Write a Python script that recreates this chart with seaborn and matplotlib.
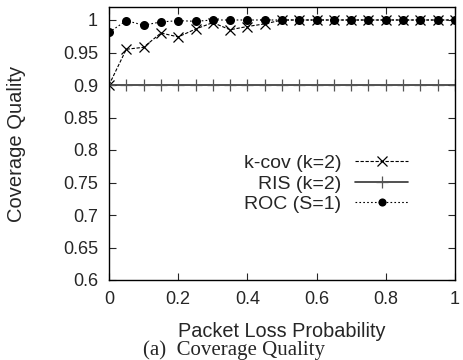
import matplotlib
matplotlib.use("Agg")
import matplotlib.pyplot as plt
import seaborn as sns
import pandas as pd

# Packet loss probability steps
loss = [0.0, 0.05, 0.1, 0.15, 0.2, 0.25, 0.3, 0.35, 0.4, 0.45, 0.5,
        0.55, 0.6, 0.65, 0.7, 0.75, 0.8, 0.85, 0.9, 0.95, 1.0]

kcov = [0.900, 0.955, 0.958, 0.980, 0.974, 0.986, 0.996, 0.985, 0.990, 0.994, 1.0,
        1.0, 1.0, 1.0, 1.0, 1.0, 1.0, 1.0, 1.0, 1.0, 1.0]
ris = [0.9] * 21
roc = [0.981, 0.999, 0.992, 0.997, 0.999, 0.998, 1.0, 1.0, 1.0, 1.0, 1.0,
       1.0, 1.0, 1.0, 1.0, 1.0, 1.0, 1.0, 1.0, 1.0, 1.0]

x_ticks = [0, 0.2, 0.4, 0.6, 0.8, 1]
x_labels = ["0", "0.2", "0.4", "0.6", "0.8", "1"]
y_ticks = [0.6, 0.65, 0.7, 0.75, 0.8, 0.85, 0.9, 0.95, 1]
y_labels = ["0.6", "0.65", "0.7", "0.75", "0.8", "0.85", "0.9", "0.95", "1"]

sns.set_style("ticks")
plt.rcParams["font.family"] = ["Liberation Sans", "DejaVu Sans"]

fig = plt.figure(figsize=(4.63, 3.6), dpi=100)
ax = fig.add_axes([109 / 463, 80 / 360, 346 / 463, 273 / 360])

df_k = pd.DataFrame({"x": loss, "y": kcov})
df_r = pd.DataFrame({"x": loss, "y": ris})
df_o = pd.DataFrame({"x": loss, "y": roc})

sns.lineplot(data=df_k, x="x", y="y", ax=ax, color="black", lw=0.8,
             linestyle=(0, (3, 1.5)), marker="x", markersize=7.5,
             markeredgewidth=0.9, markeredgecolor="black",
             label="k-cov (k=2)")
sns.lineplot(data=df_r, x="x", y="y", ax=ax, color="#333333", lw=1.2,
             linestyle="-", marker="+", markersize=9, markeredgewidth=0.9,
             markeredgecolor="#555555", label="RIS (k=2)")
sns.lineplot(data=df_o, x="x", y="y", ax=ax, color="black", lw=0.8,
             linestyle=(0, (1.5, 2)), marker="o", markersize=6.5,
             markeredgewidth=0, markerfacecolor="black", label="ROC (S=1)")

ax.set_xlim(0, 1)
ax.set_ylim(0.6, 1.02)
ax.set_xticks(x_ticks)
ax.set_xticklabels(x_labels)
ax.set_yticks(y_ticks)
ax.set_yticklabels(y_labels)
ax.tick_params(direction="in", top=True, right=True, length=5, width=0.8,
               labelsize=13, pad=8)
for s in ax.spines.values():
    s.set_linewidth(1.0)
    s.set_color("black")

ax.set_xlabel("Packet Loss Probability", fontsize=14.3)
ax.xaxis.set_label_coords(0.5, -0.155)
ax.set_ylabel("Coverage Quality", fontsize=14.5)
ax.yaxis.set_label_coords(-0.24, 0.5)

ax.legend(loc="upper right", bbox_to_anchor=(0.864, 0.46), frameon=False,
          markerfirst=False, fontsize=14, handlelength=2.7, markerscale=0.9,
          handletextpad=0.72, labelspacing=0.15, borderpad=0, borderaxespad=0)

fig.text(0.505, 0.0, "(a)  Coverage Quality", ha="center", va="bottom",
         fontsize=15, family=["Liberation Serif", "DejaVu Serif"])

fig.savefig("out.png", dpi=100)
